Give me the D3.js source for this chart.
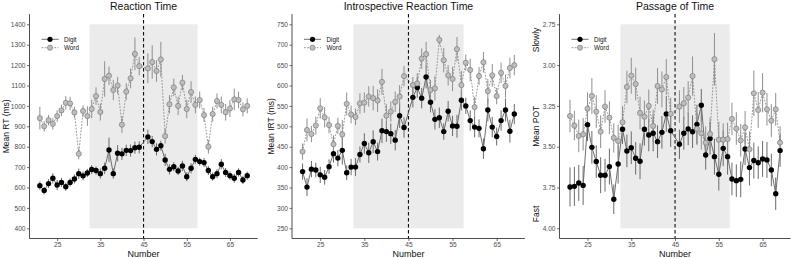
<!DOCTYPE html>
<html>
<head>
<meta charset="utf-8">
<script src="https://cdn.jsdelivr.net/npm/d3@7"></script>
<style>
  body { margin: 0; background: #fff; }
  text { font-family: "Liberation Sans", Arial, sans-serif; }
</style>
</head>
<body>
<svg width="792" height="258"></svg>
<script>
// numbers shown (45 is the standard, not presented)
const numbers = [21, 22, 23, 24, 25, 26, 27, 28, 29, 30, 31, 32, 33, 34, 35, 36, 37, 38, 39, 40, 41, 42, 43, 44,
                 46, 47, 48, 49, 50, 51, 52, 53, 54, 55, 56, 57, 58, 59, 60, 61, 62, 63, 64, 65, 66, 67, 68, 69];
const xTicks = [25, 35, 45, 55, 65];

// Reaction time
const rtDigit = [609, 585, 619, 645, 612, 625, 604, 625, 642, 668, 657, 671, 688, 683, 668, 694, 784, 668, 768, 765, 782, 781, 795, 797,
                 848, 825, 787, 805, 735, 689, 702, 681, 706, 653, 694, 738, 727, 722, 683, 653, 668, 714, 674, 658, 645, 674, 637, 658];
const rtDigitSe = [20, 18, 22, 25, 25, 22, 20, 20, 22, 25, 22, 20, 22, 20, 25, 28, 60, 25, 40, 30, 28, 30, 30, 30,
                   35, 28, 30, 25, 30, 25, 22, 20, 25, 22, 25, 22, 20, 22, 22, 20, 22, 25, 22, 20, 22, 20, 20, 20];
const rtWord = [940, 900, 930, 912, 950, 978, 1015, 1012, 968, 765, 975, 950, 985, 1048, 970, 1132, 1148, 1078, 1100, 908, 1070, 1135, 1255, 1195,
                1184, 1215, 1171, 1228, 852, 1008, 1091, 1000, 1114, 985, 1068, 1005, 1029, 955, 800, 960, 1024, 1005, 969, 987, 1032, 1029, 983, 1000];
const rtWordSe = [55, 25, 25, 28, 28, 28, 33, 33, 28, 27, 28, 48, 45, 43, 42, 87, 45, 50, 42, 41, 41, 49, 80, 45,
                  73, 82, 53, 86, 37, 45, 43, 45, 38, 45, 53, 41, 41, 35, 34, 37, 37, 41, 41, 41, 53, 41, 34, 37];
const rtTicks = [400, 500, 600, 700, 800, 900, 1000, 1100, 1200, 1300, 1400];

// Introspective reaction time
const irtDigit = [389, 351, 395, 393, 381, 375, 401, 433, 422, 441, 386, 400, 400, 431, 458, 435, 462, 438, 489, 487, 482, 466, 526, 497,
                  571, 595, 569, 621, 559, 517, 521, 487, 537, 501, 500, 564, 550, 514, 498, 495, 445, 540, 498, 475, 514, 540, 488, 530];
const irtDigitSe = [20, 22, 20, 18, 20, 18, 18, 22, 20, 35, 18, 20, 22, 20, 25, 25, 28, 22, 30, 25, 25, 25, 30, 25,
                    25, 25, 25, 28, 25, 25, 25, 20, 25, 25, 28, 25, 20, 25, 25, 22, 25, 28, 25, 22, 25, 28, 28, 25];
const irtWord = [438, 491, 481, 502, 544, 522, 503, 456, 501, 480, 555, 529, 523, 556, 558, 573, 569, 563, 609, 526, 536, 560, 573, 623,
                 601, 605, 666, 677, 589, 593, 712, 662, 625, 616, 689, 601, 656, 638, 547, 623, 657, 586, 625, 574, 631, 599, 643, 650];
const irtWordSe = [20, 28, 20, 22, 25, 25, 20, 22, 20, 35, 28, 22, 20, 25, 25, 25, 30, 28, 32, 28, 25, 25, 28, 25,
                   20, 25, 25, 30, 25, 30, 12, 30, 25, 30, 30, 35, 20, 28, 25, 22, 25, 30, 28, 20, 25, 28, 25, 25];
const irtTicks = [250, 300, 350, 400, 450, 500, 550, 600, 650, 700, 750];

// Passage of time
const potDigit = [3.747, 3.743, 3.722, 3.737, 3.365, 3.504, 3.591, 3.675, 3.675, 3.622, 3.822, 3.606, 3.393, 3.526, 3.506, 3.571, 3.589, 3.393, 3.428, 3.418, 3.469, 3.412, 3.299, 3.402,
                  3.485, 3.418, 3.391, 3.408, 3.363, 3.246, 3.551, 3.449, 3.561, 3.669, 3.510, 3.561, 3.698, 3.708, 3.700, 3.514, 3.628, 3.585, 3.598, 3.575, 3.581, 3.643, 3.788, 3.524];
const potDigitSe = [0.12, 0.12, 0.11, 0.12, 0.10, 0.10, 0.10, 0.11, 0.10, 0.11, 0.09, 0.12, 0.09, 0.10, 0.10, 0.10, 0.11, 0.10, 0.10, 0.11, 0.10, 0.10, 0.11, 0.10,
                    0.09, 0.10, 0.10, 0.10, 0.12, 0.10, 0.09, 0.10, 0.11, 0.10, 0.11, 0.11, 0.10, 0.10, 0.11, 0.10, 0.11, 0.11, 0.10, 0.11, 0.11, 0.10, 0.10, 0.10];
const potWord = [3.312, 3.371, 3.434, 3.424, 3.267, 3.189, 3.285, 3.408, 3.254, 3.322, 3.446, 3.465, 3.350, 3.134, 3.065, 3.116, 3.293, 3.316, 3.250, 3.373, 3.128, 3.149, 3.073, 3.299,
                 3.254, 3.234, 3.199, 3.067, 3.391, 3.418, 3.475, 3.422, 2.964, 3.457, 3.457, 3.453, 3.330, 3.389, 3.461, 3.381, 3.516, 3.173, 3.275, 3.169, 3.271, 3.340, 3.271, 3.475];
const potWordSe = [0.10, 0.09, 0.10, 0.10, 0.10, 0.11, 0.10, 0.10, 0.10, 0.10, 0.09, 0.10, 0.10, 0.10, 0.11, 0.10, 0.10, 0.10, 0.10, 0.10, 0.11, 0.11, 0.11, 0.10,
                   0.10, 0.10, 0.10, 0.12, 0.10, 0.10, 0.10, 0.10, 0.16, 0.11, 0.10, 0.10, 0.10, 0.10, 0.10, 0.10, 0.11, 0.14, 0.11, 0.12, 0.10, 0.10, 0.10, 0.10];
const potTicks = [2.75, 3.00, 3.25, 3.50, 3.75, 4.00];

const bandX = [32.5, 57.5];
const standard = 45;

const panels = [
    { title: "Reaction Time", ylab: "Mean RT (ms)", digit: rtDigit, digitSe: rtDigitSe, word: rtWord, wordSe: rtWordSe,
      ticks: rtTicks, fmt: d3.format("d"), left: 29.5, right: 257.6, labX: 6 },
    { title: "Introspective Reaction Time", ylab: "Mean IRT (ms)", digit: irtDigit, digitSe: irtDigitSe, word: irtWord, wordSe: irtWordSe,
      ticks: irtTicks, fmt: d3.format("d"), left: 292, right: 524.9, labX: 271 },
    { title: "Passage of Time", ylab: "Mean POT", digit: potDigit, digitSe: potDigitSe, word: potWord, wordSe: potWordSe,
      ticks: potTicks, fmt: d3.format(".2f"), left: 559.5, right: 790.6, labX: 536, reversed: true }
];

const plotTop = 14.1, plotBottom = 238.5;
const svg = d3.select("svg");

const digitCol = "#000", digitLine = "#5e5e5e", digitBar = "#6a6a6a";
const wordFill = "#bdbdbd", wordStroke = "#707070", wordLine = "#8c8c8c", wordBar = "#8f8f8f";

panels.forEach(p => {
    const lo = p.ticks[0], hi = p.ticks[p.ticks.length - 1];
    const pad = (hi - lo) * 0.05;
    const x = d3.scaleLinear().domain([18.6, 71.4]).range([p.left, p.right]);
    const y = d3.scaleLinear().domain([lo - pad, hi + pad]).range(p.reversed ? [plotTop, plotBottom] : [plotBottom, plotTop]);

    const g = svg.append("g");

    // shaded band
    g.append("rect")
        .attr("x", x(bandX[0])).attr("width", x(bandX[1]) - x(bandX[0]))
        .attr("y", Math.min(y(lo), y(hi))).attr("height", Math.abs(y(lo) - y(hi)))
        .attr("fill", "#ebebeb");

    // standard
    g.append("line")
        .attr("x1", x(standard)).attr("x2", x(standard))
        .attr("y1", plotTop).attr("y2", plotBottom)
        .attr("stroke", "#111").attr("stroke-width", 1.1).attr("stroke-dasharray", "3.5,2.5");

    const digit = numbers.map((n, i) => ({ n, v: p.digit[i], se: p.digitSe[i] }));
    const word = numbers.map((n, i) => ({ n, v: p.word[i], se: p.wordSe[i] }));
    const line = d3.line().x(d => x(d.n)).y(d => y(d.v));

    g.append("path").datum(digit).attr("d", line)
        .attr("fill", "none").attr("stroke", digitLine).attr("stroke-width", 0.9);
    g.append("path").datum(word).attr("d", line)
        .attr("fill", "none").attr("stroke", wordLine).attr("stroke-width", 0.9).attr("stroke-dasharray", "1.8,1.4");

    [[digit, digitBar], [word, wordBar]].forEach(([data, col]) => {
        g.append("g").selectAll("line").data(data).enter().append("line")
            .attr("x1", d => x(d.n)).attr("x2", d => x(d.n))
            .attr("y1", d => y(d.v - d.se)).attr("y2", d => y(d.v + d.se))
            .attr("stroke", col).attr("stroke-width", 1);
    });

    g.append("g").selectAll("circle").data(digit).enter().append("circle")
        .attr("cx", d => x(d.n)).attr("cy", d => y(d.v)).attr("r", 2.7)
        .attr("fill", digitCol);
    g.append("g").selectAll("circle").data(word).enter().append("circle")
        .attr("cx", d => x(d.n)).attr("cy", d => y(d.v)).attr("r", 2.6)
        .attr("fill", wordFill).attr("stroke", wordStroke).attr("stroke-width", 0.6);

    // axes
    const ax = g.append("g").attr("transform", `translate(0,${plotBottom})`)
        .call(d3.axisBottom(x).tickValues(xTicks).tickSize(2.5).tickPadding(1));
    const ay = g.append("g").attr("transform", `translate(${p.left},0)`)
        .call(d3.axisLeft(y).tickValues(p.ticks).tickFormat(p.fmt).tickSize(2.5).tickPadding(1.5));
    [ax, ay].forEach(a => {
        a.select(".domain").remove();
        a.selectAll(".tick line").attr("stroke", "#333").attr("stroke-width", 0.7);
        a.selectAll(".tick text").attr("fill", "#4d4d4d").style("font-size", "6.6px")
            .style("font-family", "'Liberation Sans', Arial, sans-serif");
    });
    g.append("line").attr("x1", p.left).attr("x2", p.left).attr("y1", plotTop).attr("y2", plotBottom)
        .attr("stroke", "#222").attr("stroke-width", 0.8);
    g.append("line").attr("x1", p.left).attr("x2", p.right).attr("y1", plotBottom).attr("y2", plotBottom)
        .attr("stroke", "#222").attr("stroke-width", 0.8);

    // titles
    const cx = (p.left + p.right) / 2;
    g.append("text").attr("x", cx).attr("y", 9.5).attr("text-anchor", "middle")
        .style("font-size", "10.5px").attr("fill", "#111").text(p.title);
    g.append("text").attr("x", cx).attr("y", 257).attr("text-anchor", "middle")
        .style("font-size", "9px").attr("fill", "#111").text("Number");
    const cy = (plotTop + plotBottom) / 2;
    g.append("text").attr("transform", `translate(${p.labX},${cy}) rotate(-90)`)
        .attr("text-anchor", "middle").attr("dy", "0.35em")
        .style("font-size", "8.5px").attr("fill", "#111").text(p.ylab);
    if (p.reversed) {
        g.append("text").attr("transform", `translate(${p.labX},40) rotate(-90)`)
            .attr("text-anchor", "middle").attr("dy", "0.35em")
            .style("font-size", "8.5px").attr("fill", "#111").text("Slowly");
        g.append("text").attr("transform", `translate(${p.labX},214) rotate(-90)`)
            .attr("text-anchor", "middle").attr("dy", "0.35em")
            .style("font-size", "8.5px").attr("fill", "#111").text("Fast");
    }

    // legend
    const lg = g.append("g").attr("transform", `translate(${p.left + 12},0)`);
    const rows = [
        { name: "Digit", y: 39.3, stroke: digitLine, dash: null, fill: digitCol, pstroke: "none" },
        { name: "Word", y: 47.7, stroke: wordLine, dash: "1.8,1.4", fill: wordFill, pstroke: wordStroke }
    ];
    rows.forEach(r => {
        lg.append("line").attr("x1", 0).attr("x2", 17).attr("y1", r.y).attr("y2", r.y)
            .attr("stroke", r.stroke).attr("stroke-width", 0.9).attr("stroke-dasharray", r.dash);
        lg.append("circle").attr("cx", 8.5).attr("cy", r.y).attr("r", 2.6)
            .attr("fill", r.fill).attr("stroke", r.pstroke).attr("stroke-width", 0.6);
        lg.append("text").attr("x", 22.5).attr("y", r.y).attr("dy", "0.35em")
            .style("font-size", "6.3px").attr("fill", "#111").text(r.name);
    });
});
</script>
</body>
</html>
